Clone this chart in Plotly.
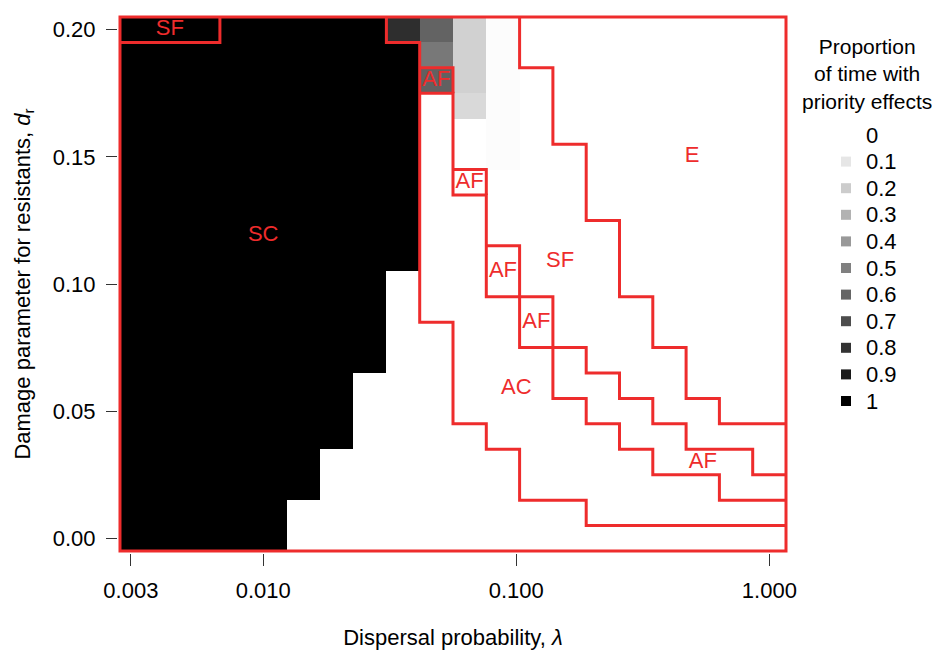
import plotly.graph_objects as go
from collections import defaultdict

# ---------------- data ----------------
# dispersal probability (lambda), 20 log-spaced columns
dispersal = [0.003162, 0.004281, 0.005796, 0.007848, 0.010625, 0.014384, 0.019475,
             0.026367, 0.035697, 0.048329, 0.065432, 0.088587, 0.11994, 0.16238,
             0.21984, 0.29764, 0.40296, 0.54556, 0.73862, 1.0]
# damage parameter for resistants (d_r), 21 rows (bottom to top)
damage = [0.00, 0.01, 0.02, 0.03, 0.04, 0.05, 0.06, 0.07, 0.08, 0.09, 0.10,
          0.11, 0.12, 0.13, 0.14, 0.15, 0.16, 0.17, 0.18, 0.19, 0.20]

# proportion of time with priority effects, rows listed from d_r = 0.20 (top) to 0.00 (bottom)
priority_top_down = [
    [1, 1, 1, 1, 1, 1, 1, 1, 0.82, 0.61, 0.18, 0.01, 0, 0, 0, 0, 0, 0, 0, 0],  # 0.20
    [1, 1, 1, 1, 1, 1, 1, 1, 1, 0.53, 0.18, 0.01, 0, 0, 0, 0, 0, 0, 0, 0],     # 0.19
    [1, 1, 1, 1, 1, 1, 1, 1, 1, 0.62, 0.18, 0.01, 0, 0, 0, 0, 0, 0, 0, 0],     # 0.18
    [1, 1, 1, 1, 1, 1, 1, 1, 1, 0, 0.15, 0.01, 0, 0, 0, 0, 0, 0, 0, 0],        # 0.17
    [1, 1, 1, 1, 1, 1, 1, 1, 1, 0, 0, 0.01, 0, 0, 0, 0, 0, 0, 0, 0],           # 0.16
    [1, 1, 1, 1, 1, 1, 1, 1, 1, 0, 0, 0.01, 0, 0, 0, 0, 0, 0, 0, 0],           # 0.15
    [1, 1, 1, 1, 1, 1, 1, 1, 1, 0, 0, 0, 0, 0, 0, 0, 0, 0, 0, 0],              # 0.14
    [1, 1, 1, 1, 1, 1, 1, 1, 1, 0, 0, 0, 0, 0, 0, 0, 0, 0, 0, 0],              # 0.13
    [1, 1, 1, 1, 1, 1, 1, 1, 1, 0, 0, 0, 0, 0, 0, 0, 0, 0, 0, 0],              # 0.12
    [1, 1, 1, 1, 1, 1, 1, 1, 1, 0, 0, 0, 0, 0, 0, 0, 0, 0, 0, 0],              # 0.11
    [1, 1, 1, 1, 1, 1, 1, 1, 0, 0, 0, 0, 0, 0, 0, 0, 0, 0, 0, 0],              # 0.10
    [1, 1, 1, 1, 1, 1, 1, 1, 0, 0, 0, 0, 0, 0, 0, 0, 0, 0, 0, 0],              # 0.09
    [1, 1, 1, 1, 1, 1, 1, 1, 0, 0, 0, 0, 0, 0, 0, 0, 0, 0, 0, 0],              # 0.08
    [1, 1, 1, 1, 1, 1, 1, 1, 0, 0, 0, 0, 0, 0, 0, 0, 0, 0, 0, 0],              # 0.07
    [1, 1, 1, 1, 1, 1, 1, 0, 0, 0, 0, 0, 0, 0, 0, 0, 0, 0, 0, 0],              # 0.06
    [1, 1, 1, 1, 1, 1, 1, 0, 0, 0, 0, 0, 0, 0, 0, 0, 0, 0, 0, 0],              # 0.05
    [1, 1, 1, 1, 1, 1, 1, 0, 0, 0, 0, 0, 0, 0, 0, 0, 0, 0, 0, 0],              # 0.04
    [1, 1, 1, 1, 1, 1, 0, 0, 0, 0, 0, 0, 0, 0, 0, 0, 0, 0, 0, 0],              # 0.03
    [1, 1, 1, 1, 1, 1, 0, 0, 0, 0, 0, 0, 0, 0, 0, 0, 0, 0, 0, 0],              # 0.02
    [1, 1, 1, 1, 1, 0, 0, 0, 0, 0, 0, 0, 0, 0, 0, 0, 0, 0, 0, 0],              # 0.01
    [1, 1, 1, 1, 1, 0, 0, 0, 0, 0, 0, 0, 0, 0, 0, 0, 0, 0, 0, 0],              # 0.00
]

# outcome regime per cell (C=SC, F=SF, A=AF, K=AC, E=E), rows top (0.20) to bottom (0.00)
regime_top_down = [
    "FFFCCCCCFFFFEEEEEEEE",  # 0.20
    "CCCCCCCCCFFFEEEEEEEE",  # 0.19
    "CCCCCCCCCAFFFEEEEEEE",  # 0.18
    "CCCCCCCCCKFFFEEEEEEE",  # 0.17
    "CCCCCCCCCKFFFEEEEEEE",  # 0.16
    "CCCCCCCCCKFFFFEEEEEE",  # 0.15
    "CCCCCCCCCKAFFFEEEEEE",  # 0.14
    "CCCCCCCCCKKFFFEEEEEE",  # 0.13
    "CCCCCCCCCKKFFFFEEEEE",  # 0.12
    "CCCCCCCCCKKAFFFEEEEE",  # 0.11
    "CCCCCCCCCKKAFFFEEEEE",  # 0.10
    "CCCCCCCCCKKKAFFFEEEE",  # 0.09
    "CCCCCCCCCCKKAFFFEEEE",  # 0.08
    "CCCCCCCCCCKKKAFFFEEE",  # 0.07
    "CCCCCCCCCCKKKAAFFEEE",  # 0.06
    "CCCCCCCCCCKKKKAAFFEE",  # 0.05
    "CCCCCCCCCCCKKKKAAFFF",  # 0.04
    "CCCCCCCCCCCCKKKKAAAF",  # 0.03
    "CCCCCCCCCCCCKKKKKKAA",  # 0.02
    "CCCCCCCCCCCCCCKKKKKK",  # 0.01
    "CCCCCCCCCCCCCCCCCCCC",  # 0.00
]

# regime labels
label_text = ["SF", "SC", "AF", "AF", "AF", "SF", "AF", "AC", "E", "AF"]
label_lambda = [0.00428, 0.0100, 0.0483, 0.0654, 0.0886, 0.149, 0.120, 0.100, 0.495, 0.546]
label_damage = [0.200, 0.119, 0.180, 0.140, 0.105, 0.109, 0.085, 0.059, 0.150, 0.030]

# legend
legend_levels = [0, 0.1, 0.2, 0.3, 0.4, 0.5, 0.6, 0.7, 0.8, 0.9, 1]
legend_labels = ["0", "0.1", "0.2", "0.3", "0.4", "0.5", "0.6", "0.7", "0.8", "0.9", "1"]

x_tickvals = [0.003, 0.01, 0.1, 1.0]
x_ticktext = ["0.003", "0.010", "0.100", "1.000"]
y_tickvals = [0.00, 0.05, 0.10, 0.15, 0.20]

# ---------------- derived geometry ----------------
nx, ny = len(dispersal), len(damage)
ratio = (dispersal[-1] / dispersal[0]) ** (1.0 / (nx - 1))
x_edges = [dispersal[0] / ratio ** 0.5] + \
          [(dispersal[i] * dispersal[i + 1]) ** 0.5 for i in range(nx - 1)] + \
          [dispersal[-1] * ratio ** 0.5]
dy = damage[1] - damage[0]
y_edges = [damage[0] - dy / 2] + [(damage[i] + damage[i + 1]) / 2 for i in range(ny - 1)] + \
          [damage[-1] + dy / 2]

z = priority_top_down[::-1]
reg = regime_top_down[::-1]

# boundary edges between different regimes (+ outer frame)
edges = set()


def add(a, b):
    edges.add((min(a, b), max(a, b)))


for r in range(ny):
    for c in range(nx):
        if c + 1 < nx and reg[r][c] != reg[r][c + 1]:
            add((c + 1, r), (c + 1, r + 1))
        if r + 1 < ny and reg[r][c] != reg[r + 1][c]:
            add((c, r + 1), (c + 1, r + 1))
for c in range(nx):
    add((c, 0), (c + 1, 0))
    add((c, ny), (c + 1, ny))
for r in range(ny):
    add((0, r), (0, r + 1))
    add((nx, r), (nx, r + 1))

adj = defaultdict(set)
for a, b in edges:
    adj[a].add(b)
    adj[b].add(a)

paths = []
while any(adj.values()):
    start = next((n for n in sorted(adj) if len(adj[n]) % 2 == 1), None)
    if start is None:
        start = next(n for n in sorted(adj) if adj[n])
    path = [start]
    cur = start
    d = None
    while adj[cur]:
        nxt = None
        if d is not None:
            cand = (cur[0] + d[0], cur[1] + d[1])
            if cand in adj[cur]:
                nxt = cand
        if nxt is None:
            nxt = sorted(adj[cur])[0]
        d = (nxt[0] - cur[0], nxt[1] - cur[1])
        adj[cur].discard(nxt)
        adj[nxt].discard(cur)
        path.append(nxt)
        cur = nxt
    paths.append(path)

line_x, line_y = [], []
for p in paths:
    for (k, m) in p:
        line_x.append(x_edges[k])
        line_y.append(y_edges[m])
    line_x.append(None)
    line_y.append(None)

# ---------------- figure ----------------
FONT = "Liberation Sans, Arial, Helvetica, sans-serif"
RED = "#EE2C2C"
BODY = 8                      # page body margin of the html page
W, H = 940 - BODY, 650 - BODY
ML, MR, MT, MB = 118 - BODY, 0, 15 - BODY, 97
PW, PH = W - ML - MR, H - MT - MB
PLOT_L, PLOT_B = 118, 553     # page pixel coords of plot-area left / bottom
plot_w = 670


def fx(px):
    return (px - PLOT_L) / PW


def fy(py):
    return (PLOT_B - py) / PH


fig = go.Figure()
fig.add_trace(go.Heatmap(
    x=x_edges, y=y_edges, z=z,
    colorscale=[[0, "#ffffff"], [1, "#000000"]], zmin=0, zmax=1,
    showscale=False, hoverinfo="skip"))
fig.add_trace(go.Scatter(
    x=line_x, y=line_y, mode="lines",
    line=dict(color=RED, width=3), hoverinfo="skip", showlegend=False, cliponaxis=False))
fig.add_trace(go.Scatter(
    x=label_lambda, y=label_damage, mode="text", text=label_text,
    textfont=dict(family=FONT, size=22, color=RED),
    hoverinfo="skip", showlegend=False, cliponaxis=False))

# legend drawn on its own small axes (x2 spans page x 800..940 as 0..140)
legend_colors = ["rgb({0},{0},{0})".format(int(round(255 * (1 - v)))) for v in legend_levels]
fig.add_trace(go.Scatter(
    x=[46] * len(legend_levels), y=legend_levels, mode="markers",
    marker=dict(symbol="square", size=10, color=legend_colors, line=dict(width=0)),
    xaxis="x2", yaxis="y2", hoverinfo="skip", showlegend=False, cliponaxis=False))

annotations = [dict(
    text=lab, x=64, y=lev, xref="x2", yref="y2",
    xanchor="left", yanchor="middle", showarrow=False,
    font=dict(family=FONT, size=22, color="#000000"))
    for lab, lev in zip(legend_labels, legend_labels and legend_levels)]
annotations.append(dict(
    text="Proportion<br>of time with<br>priority effects",
    xref="paper", yref="paper", x=fx(867), y=fy(74),
    xanchor="center", yanchor="middle", align="center", showarrow=False,
    font=dict(family=FONT, size=21, color="#000000")))

xlo, xhi = -2.5658 - 2 / 253.0, 0.0658 + 2 / 253.0
fig.update_layout(
    width=W, height=H,
    margin=dict(l=ML, r=MR, t=MT, b=MB, pad=0),
    paper_bgcolor="white", plot_bgcolor="white",
    font=dict(family=FONT, size=22, color="#000000"),
    showlegend=False,
    xaxis=dict(
        type="log", domain=[0, plot_w / PW], range=[xlo, xhi],
        tickvals=x_tickvals, ticktext=x_ticktext,
        ticks="outside", ticklen=12, tickwidth=1.3, tickcolor="#333333",
        showgrid=False, zeroline=False, showline=False, automargin=False,
        tickfont=dict(size=22), ticklabelstandoff=6,
        title=dict(text="Dispersal probability, <i>λ</i>", font=dict(size=22), standoff=30)),
    yaxis=dict(
        range=[-0.005 - 2 / 2540.0, 0.205 + 2 / 2540.0],
        tickvals=y_tickvals, tickformat=".2f",
        ticks="outside", ticklen=11, tickwidth=1.3, tickcolor="#333333",
        showgrid=False, zeroline=False, showline=False, automargin=False,
        tickfont=dict(size=22), ticklabelstandoff=6,
        title=dict(text="Damage parameter for resistants, <i>d</i><sub>r</sub>",
                   font=dict(size=22), standoff=16)),
    xaxis2=dict(domain=[fx(800), 1.0], range=[0, 140], visible=False, fixedrange=True,
                anchor="y2"),
    yaxis2=dict(domain=[fy(401), fy(135)], range=[1.0, 0.0],
                anchor="x2", visible=False, fixedrange=True),
    annotations=annotations,
)

fig.write_html("out.html")
